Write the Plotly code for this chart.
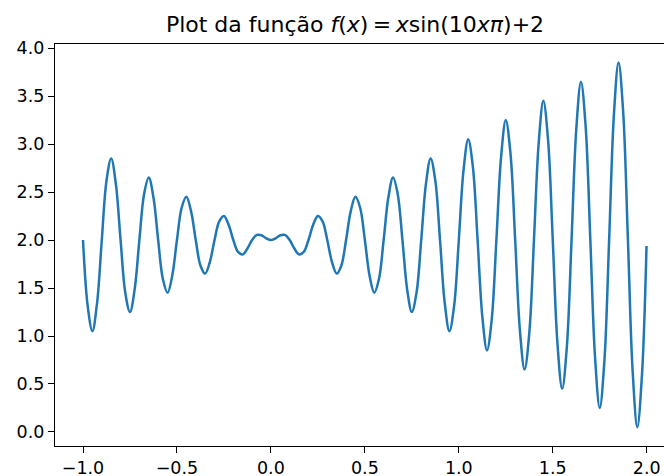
import plotly.graph_objects as go

x_vals = [round(-1 + 0.025 * i, 3) for i in range(120)] + [1.999]
y_vals = [
    2.000, 1.311, 1.050, 1.346, 2.000, 2.619, 2.850, 2.583,
    2.000, 1.452, 1.250, 1.487, 2.000, 2.477, 2.650, 2.442,
    2.000, 1.593, 1.450, 1.629, 2.000, 2.336, 2.450, 2.301,
    2.000, 1.735, 1.650, 1.770, 2.000, 2.194, 2.250, 2.159,
    2.000, 1.876, 1.850, 1.912, 2.000, 2.053, 2.050, 2.018,
    2.000, 2.018, 2.050, 2.053, 2.000, 1.912, 1.850, 1.876,
    2.000, 2.159, 2.250, 2.194, 2.000, 1.770, 1.650, 1.735,
    2.000, 2.301, 2.450, 2.336, 2.000, 1.629, 1.450, 1.593,
    2.000, 2.442, 2.650, 2.477, 2.000, 1.487, 1.250, 1.452,
    2.000, 2.583, 2.850, 2.619, 2.000, 1.346, 1.050, 1.311,
    2.000, 2.725, 3.050, 2.760, 2.000, 1.205, 0.850, 1.169,
    2.000, 2.866, 3.250, 2.902, 2.000, 1.063, 0.650, 1.028,
    2.000, 3.008, 3.450, 3.043, 2.000, 0.922, 0.450, 0.886,
    2.000, 3.149, 3.650, 3.184, 2.000, 0.780, 0.250, 0.745,
    2.000, 3.290, 3.850, 3.326, 2.000, 0.639, 0.050, 0.603,
    1.937,
]
x_ticks = [-1.0, -0.5, 0.0, 0.5, 1.0, 1.5, 2.0]
y_ticks = [0.0, 0.5, 1.0, 1.5, 2.0, 2.5, 3.0, 3.5, 4.0]

fig = go.Figure()
fig.add_trace(go.Scatter(
    x=x_vals, y=y_vals, mode="lines",
    line=dict(color="#1f77b4", width=2.5, shape="spline", smoothing=1.0),
    showlegend=False,
))

font = "DejaVu Sans, sans-serif"
fig.update_layout(
    width=664, height=476,
    margin=dict(l=55, r=0, t=44, b=30),
    paper_bgcolor="white", plot_bgcolor="white",
    font=dict(family=font, size=17, color="black"),
    title=dict(
        text="Plot da função <i>f</i>(<i>x</i>)\u2009=\u2009<i>x</i>sin(10<i>xπ</i>)+2",
        x=355 / 664, xanchor="center", y=1 - 24 / 476, yanchor="middle",
        font=dict(family=font, size=22, color="black"),
    ),
)
fig.update_xaxes(
    range=[-1.149, 2.092], tickvals=x_ticks, tickformat=".1f",
    showgrid=False, zeroline=False, showline=True, linecolor="black",
    linewidth=1.2, mirror=True, ticks="outside", ticklen=6, tickwidth=1.2,
    tickcolor="black", tickfont=dict(size=17.5), automargin=False,
)
fig.update_yaxes(
    range=[-0.146, 4.042], tickvals=y_ticks, tickformat=".1f",
    showgrid=False, zeroline=False, showline=True, linecolor="black",
    linewidth=1.2, ticks="outside", ticklen=6, tickwidth=1.2,
    tickcolor="black", tickfont=dict(size=17.5), automargin=False,
)
fig.write_html(
    "out.html",
    config={"displayModeBar": False},
    post_script="document.body.style.margin='0';document.body.style.padding='0';",
)
